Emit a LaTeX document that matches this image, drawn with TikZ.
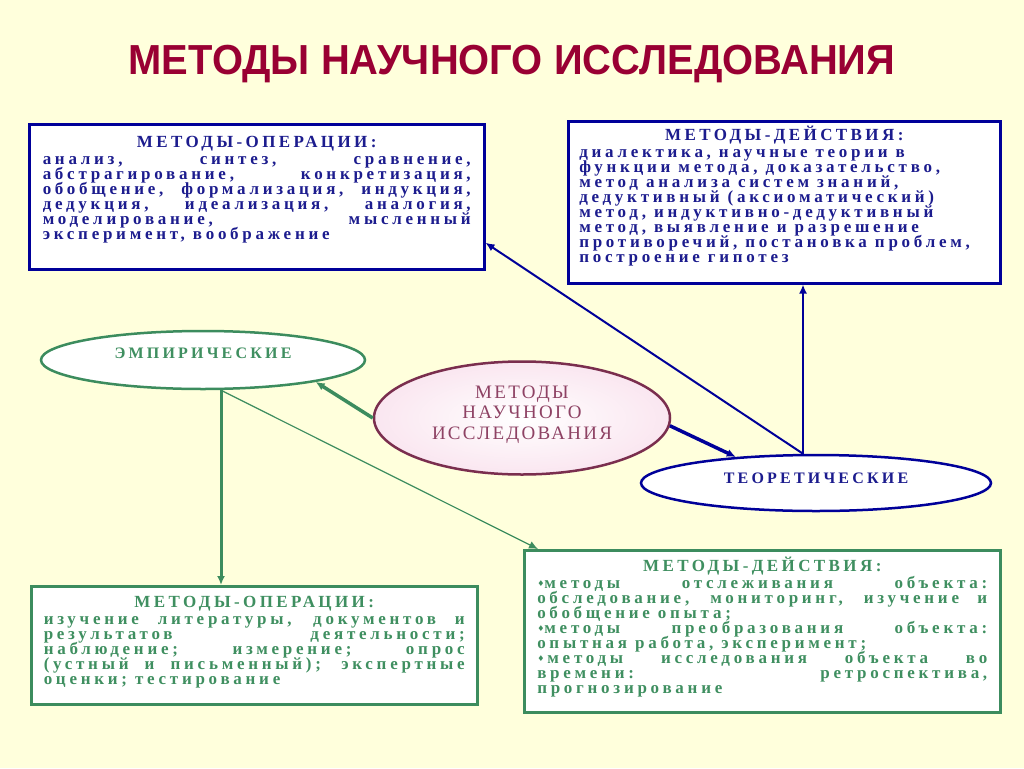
\documentclass[tikz,border=0pt]{standalone}
\usepackage{fontspec}
\setmainfont{Liberation Serif}
\newfontfamily\titlefont{Liberation Sans}
\newfontfamily\symfont{DejaVu Sans}
\newfontfamily\spaced[LetterSpace=22]{Liberation Serif}
\newfontfamily\spacedhead[LetterSpace=20]{Liberation Serif}
\newfontfamily\spacedlight[LetterSpace=12]{Liberation Serif}
\usetikzlibrary{
    arrows.meta,
    shapes.geometric
}

\definecolor{bgyellow}{HTML}{FFFFDC}
\definecolor{titlered}{HTML}{990033}
\definecolor{boxblue}{HTML}{000099}
\definecolor{txtblue}{HTML}{1C1C8E}
\definecolor{boxgreen}{HTML}{3C8C5E}
\definecolor{txtgreen}{HTML}{3F8F60}
\definecolor{mauve}{HTML}{7A2E4E}
\definecolor{mauvetext}{HTML}{8E4264}
\definecolor{pinkish}{HTML}{FAE6F0}

% justified line, heading line, bullet
\newcommand{\jline}[1]{\makebox[\linewidth][s]{#1}\\}
\newcommand{\boxhead}[1]{\makebox[\linewidth]{\spacedhead #1}\\[2pt]}
\newcommand{\dm}{{\symfont\fontsize{8}{8}\selectfont\raisebox{1.5pt}{♦}}}
\newcommand{\boxfont}{\spaced\bfseries\fontsize{17}{15}\selectfont
    \lineskiplimit=-20pt}
\newcommand{\lift}[2]{\raisebox{#1}[\height][\depth]{#2}}

\begin{document}
\begin{tikzpicture}[x=1pt,y=-1pt,
    bluebox/.style={draw=boxblue, line width=2.5pt, fill=white,
        anchor=north west, inner sep=0pt, text=txtblue},
    greenbox/.style={draw=boxgreen, line width=2.5pt, fill=white,
        anchor=north west, inner sep=0pt, text=txtgreen},
    oval/.style={ellipse, line width=2.5pt, fill=white, inner sep=0pt},
    bluearrow/.style={draw=boxblue, line width=2pt,
        -{Latex[length=9pt,width=8pt]}},
    greenarrow/.style={draw=boxgreen, line width=2pt,
        -{Latex[length=9pt,width=8pt]}}
]

% Background
\fill[bgyellow] (0,0) rectangle (1024,768);

% Title
\node[text=titlered] (title) at (512,64)
    {\titlefont\bfseries\fontsize{42}{42}\selectfont
     \scalebox{0.95}[1]{МЕТОДЫ НАУЧНОГО ИССЛЕДОВАНИЯ}};

% Theoretical methods: operations
\node[bluebox, minimum width=455pt, minimum height=145pt] (teoroper) at (28,123)
    {\parbox[t][122pt][t]{428pt}{\boxfont
     \boxhead{МЕТОДЫ-ОПЕРАЦИИ:}
     \jline{анализ, синтез, сравнение,}
     \jline{абстрагирование, конкретизация,}
     \jline{обобщение, формализация, индукция,}
     \jline{дедукция, идеализация, аналогия,}
     \jline{моделирование, мысленный}
     эксперимент, воображение}};

% Theoretical methods: actions
\node[bluebox, minimum width=432pt, minimum height=162pt] (teordeist) at (567,120)
    {\parbox[t][152pt][t]{410pt}{\boxfont
     \boxhead{МЕТОДЫ-ДЕЙСТВИЯ:}
     диалектика, научные теории в\\
     функции метода, доказательство,\\
     метод анализа систем знаний,\\
     дедуктивный (аксиоматический)\\
     метод, индуктивно-дедуктивный\\
     метод, выявление и разрешение\\
     противоречий, постановка проблем,\\
     построение гипотез}};

% Empirical methods: operations
\node[greenbox, minimum width=446pt, minimum height=118pt] (empoper) at (30,585)
    {\parbox[t][98pt][t]{421pt}{\boxfont
     \boxhead{МЕТОДЫ-ОПЕРАЦИИ:}
     \jline{изучение литературы, документов и}
     \jline{результатов деятельности;}
     \jline{наблюдение; измерение; опрос}
     \jline{(устный и письменный); экспертные}
     оценки; тестирование}};

% Empirical methods: actions
\node[greenbox, minimum width=476pt, minimum height=162pt] (empdeist) at (523,549)
    {\parbox[t][149pt][t]{450pt}{\boxfont
     \boxhead{МЕТОДЫ-ДЕЙСТВИЯ:}
     \jline{\dm методы отслеживания объекта:}
     \jline{обследование, мониторинг, изучение и}
     обобщение опыта;\\
     \jline{\dm методы преобразования объекта:}
     опытная работа, эксперимент;\\
     \jline{\dm\hspace{3pt}методы исследования объекта во}
     \jline{времени: ретроспектива,}
     прогнозирование}};

% Ellipses
\node[oval, draw=boxgreen, text=txtgreen, minimum width=324pt, minimum height=58pt]
    (empir) at (203,360)
    {\lift{6.5pt}{\spacedhead\bfseries\fontsize{16}{16}\selectfont ЭМПИРИЧЕСКИЕ}};
\node[oval, draw=boxblue, text=txtblue, minimum width=350pt, minimum height=56pt]
    (teor) at (816,483)
    {\lift{5pt}{\spacedhead\bfseries\fontsize{16}{16}\selectfont ТЕОРЕТИЧЕСКИЕ}};
\node[oval, draw=mauve, inner color=white, outer color=pinkish, text=mauvetext,
    minimum width=296pt, minimum height=113pt,
    font=\spacedlight\fontsize{19}{20.5}\selectfont]
    (metody) at (522,418)
    {\lift{3.5pt}{\parbox{180pt}{\centering МЕТОДЫ\\НАУЧНОГО\\ИССЛЕДОВАНИЯ}}};

% Connectors
\coordinate (tfork) at ([xshift=-13pt]teor.north);
\draw[bluearrow] (tfork) -- (tfork |- teordeist.south);
\draw[bluearrow] (tfork) -- ([yshift=-46pt]teoroper.east);
\draw[bluearrow, line width=3.5pt] (metody.-3) -- (teor.162);
\draw[greenarrow, line width=3.5pt] (metody.west) -- (empir.-11);
\coordinate (efork) at ([xshift=18pt]empir.south);
\draw[greenarrow, line width=3pt] (efork) -- (efork |- empoper.north);
\draw[greenarrow, line width=1.2pt] (efork) -- ([xshift=15pt]empdeist.north west);

\end{tikzpicture}
\end{document}
